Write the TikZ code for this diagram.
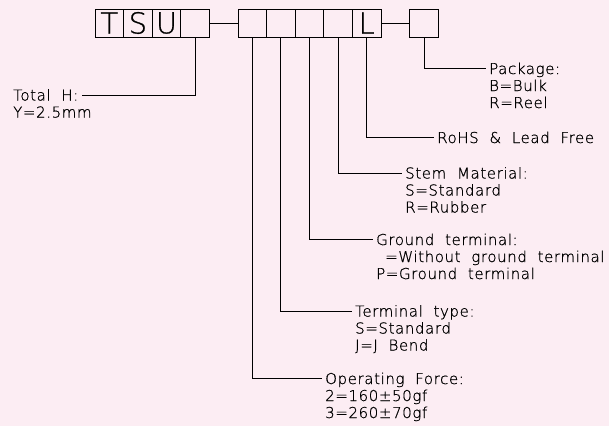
\documentclass[tikz,border=0pt]{standalone}
\usepackage{fontspec}
\newfontfamily\cadfont{DejaVuSans-ExtraLight}[Extension=.ttf,LetterSpace=4,WordSpace=2,FakeBold=0.8]
\usetikzlibrary{positioning}
\definecolor{bgpink}{RGB}{252,237,243}

\begin{document}
\begin{tikzpicture}[x=1pt,y=-1pt,
  every node/.style={font=\cadfont},
  codebox/.style={rectangle,draw=black,line width=0.9pt,minimum width=28.6pt,
    minimum height=28pt,inner sep=0pt,font=\cadfont\fontsize{29}{29}\selectfont},
  headtext/.style={anchor=west,inner xsep=3pt,inner ysep=0pt,text height=11pt,
    text depth=0pt,font=\cadfont\fontsize{15}{17}\selectfont},
  opttext/.style={anchor=base west,align=left,inner xsep=3pt,inner ysep=0pt,
    font=\cadfont\fontsize{15}{17}\selectfont},
  leadline/.style={draw=black,line width=0.9pt},
]

% ---------- Background ----------
\fill[bgpink] (0,0) rectangle (609,426);

% ---------- Code boxes ----------
\node[codebox] (B1) at (109.3,23) {T};
\node[codebox] (B2) at (137.9,23) {S};
\node[codebox] (B3) at (166.5,23) {U};
\node[codebox] (B4) at (195.1,23) {};

\node[codebox] (C1) at (252.3,23) {};
\node[codebox] (C2) at (280.9,23) {};
\node[codebox] (C3) at (309.5,23) {};
\node[codebox] (C4) at (338.1,23) {};
\node[codebox] (C5) at (366.7,23) {L};

\node[codebox] (PK) at (424.0,23) {};

\draw[leadline] (B4.east) -- (C1.west);
\draw[leadline] (C5.east) -- (PK.west);

% ---------- Headings ----------
\node[headtext] (TH) at (10,95) {Total H:};
\node[headtext] (PKG) at (486,68.5) {Package:};
\node[headtext] (ROHS) at (434,137.5) {RoHS \& Lead Free};
\node[headtext] (STEM) at (402,173) {Stem Material:};
\node[headtext] (GND) at (373,239.5) {Ground terminal:};
\node[headtext] (TERM) at (352,311) {Terminal type:};
\node[headtext] (OPF) at (322,378.5) {Operating Force:};

% ---------- Option lines (base = last line) ----------
\node[opttext] (THo) at ([yshift=-17pt]TH.base west) {Y=2.5mm};
\node[opttext] (PKGo) at ([yshift=-34pt]PKG.base west) {B=Bulk\\R=Reel};
\node[opttext] (STEMo) at ([yshift=-34pt]STEM.base west) {S=Standard\\R=Rubber};
\node[opttext] (GNDo) at ([yshift=-34pt]GND.base west) {\hspace*{9pt}=Without ground terminal\\P=Ground terminal};
\node[opttext] (TERMo) at ([yshift=-34pt]TERM.base west) {S=Standard\\J=J Bend};
\node[opttext] (OPFo) at ([yshift=-34pt]OPF.base west) {2=160±50gf\\3=260±70gf};

% ---------- Lead lines ----------
\draw[leadline] (B4.south) |- (TH.east);
\draw[leadline] (PK.south) |- (PKG.west);
\draw[leadline] (C5.south) |- (ROHS.west);
\draw[leadline] (C4.south) |- (STEM.west);
\draw[leadline] (C3.south) |- (GND.west);
\draw[leadline] (C2.south) |- (TERM.west);
\draw[leadline] (C1.south) |- (OPF.west);

\end{tikzpicture}
\end{document}
